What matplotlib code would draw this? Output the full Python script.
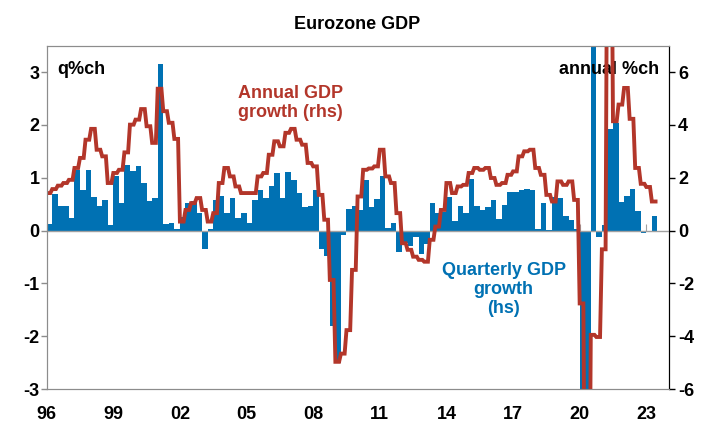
import matplotlib
matplotlib.use("Agg")
import matplotlib.pyplot as plt
import numpy as np

plt.rcParams['font.family'] = ['Liberation Sans', 'DejaVu Sans']
plt.rcParams['font.weight'] = 'bold'
plt.rcParams['axes.unicode_minus'] = False

start_year = 1996
# Quarterly GDP growth, q%ch (lhs), 1996Q1 .. 2023Q2
quarterly = [
    0.13, 0.69, 0.47, 0.47,   # 1996
    0.23, 1.15, 0.77, 1.15,   # 1997
    0.63, 0.46, 0.57, 0.11,   # 1998
    1.04, 0.52, 1.25, 1.12,   # 1999
    1.22, 0.90, 0.55, 0.61,   # 2000
    3.16, 0.13, 0.15, 0.02,   # 2001
    0.25, 0.52, 0.55, 0.33,   # 2002
    -0.35, 0.02, 0.58, 0.66,  # 2003
    0.34, 0.61, 0.23, 0.34,   # 2004
    0.15, 0.58, 0.76, 0.61,   # 2005
    0.84, 1.09, 0.61, 1.11,   # 2006
    0.95, 0.71, 0.44, 0.46,   # 2007
    0.77, -0.35, -0.49, -1.81,  # 2008
    -2.50, -0.08, 0.40, 0.47,   # 2009
    0.39, 0.96, 0.44, 0.59,   # 2010
    1.04, 0.05, 0.14, -0.40,  # 2011
    -0.24, -0.30, -0.12, -0.45,  # 2012
    -0.25, 0.53, 0.33, 0.35,  # 2013
    0.63, 0.19, 0.47, 0.34,   # 2014
    0.97, 0.47, 0.39, 0.44,   # 2015
    0.58, 0.22, 0.49, 0.73,   # 2016
    0.73, 0.77, 0.78, 0.76,   # 2017
    0.03, 0.52, 0.01, 0.63,   # 2018
    0.62, 0.28, 0.20, 0.02,   # 2019
    -3.5, -11.6, 12.5, -0.13,  # 2020
    0.10, 1.92, 2.04, 0.54,   # 2021
    0.65, 0.78, 0.37, -0.05,  # 2022
    0.00, 0.27,               # 2023
]
# Annual GDP growth, annual %ch (rhs), 1996Q1 .. 2023Q2
annual = [
    1.42, 1.57, 1.70, 1.80,   # 1996
    1.92, 2.37, 2.75, 3.44,   # 1997
    3.85, 3.06, 2.81, 1.80,   # 1998
    2.18, 2.30, 2.96, 4.01,   # 1999
    4.20, 4.60, 3.95, 3.32,   # 2000
    5.37, 4.52, 4.08, 3.47,   # 2001
    0.34, 0.78, 1.04, 1.23,   # 2002
    0.78, 0.34, 0.66, 1.80,   # 2003
    2.37, 2.05, 1.67, 1.42,   # 2004
    1.42, 1.42, 2.05, 2.18,   # 2005
    2.87, 3.38, 3.19, 3.70,   # 2006
    3.85, 3.44, 3.25, 2.56,   # 2007
    2.43, 1.35, 0.41, -1.87,  # 2008
    -4.97, -4.66, -3.77, -1.49,  # 2009
    1.29, 2.30, 2.35, 2.43,   # 2010
    3.06, 2.05, 1.80, 0.66,   # 2011
    -0.48, -0.73, -0.99, -1.11,  # 2012
    -1.18, -0.35, 0.15, 0.78,  # 2013
    1.80, 1.42, 1.67, 1.73,   # 2014
    2.18, 2.37, 2.30, 2.37,   # 2015
    1.99, 1.73, 1.80, 2.11,   # 2016
    2.24, 2.81, 3.00, 3.06,   # 2017
    2.37, 2.11, 1.35, 1.10,   # 2018
    1.86, 1.73, 1.86, 1.16,   # 2019
    -2.76, -14.5, -3.95, -4.03,  # 2020
    -0.71, 14.2, 4.14, 4.77,  # 2021
    5.40, 4.23, 2.37, 1.77,   # 2022
    1.65, 1.10,               # 2023
]
year_ticks = [1996, 1999, 2002, 2005, 2008, 2011, 2014, 2017, 2020, 2023]
year_labels = ['96', '99', '02', '05', '08', '11', '14', '17', '20', '23']
left_ticks = [-3, -2, -1, 0, 1, 2, 3]
right_ticks = [-6, -4, -2, 0, 2, 4, 6]

BLUE = '#0071B3'
RED = '#B3362A'
GREY = '#8C8C8C'

t = start_year + 0.25 * np.arange(len(quarterly))
# annual series shown as monthly repeats of each quarterly value
tm = (t[:, None] + np.array([0, 1, 2]) / 12.0).ravel()
am = np.repeat(np.array(annual), 3)

fig = plt.figure(figsize=(7.06, 4.25), dpi=100)
ax = fig.add_axes([0.0661, 0.0847, 0.8808, 0.8078])
ax2 = ax.twinx()

ax.bar(t, quarterly, width=0.25, align='edge', color=BLUE, linewidth=0)
ax.axhline(0, color='#A0A0A0', lw=1.0, zorder=3)
ax2.plot(tm, am, color=RED, lw=2.8, solid_joinstyle='miter')

ax.set_xlim(1996, 2024)
ax.set_ylim(-3, 3.5)
ax2.set_ylim(-6, 7)

ax.set_xticks(year_ticks)
ax.set_xticklabels(year_labels)
ax.tick_params(axis='x', length=0, pad=12, labelsize=13)
ax.set_yticks(left_ticks)
ax.set_yticklabels([str(v) for v in left_ticks])
ax.tick_params(axis='y', length=4, width=1, color=GREY, pad=1, labelsize=13)
ax2.set_yticks(right_ticks)
ax2.set_yticklabels([str(v) for v in right_ticks])
ax2.tick_params(axis='y', length=4, width=1, color='black', pad=3, labelsize=13)

# ticks on the zero line
sec = ax.secondary_xaxis(3 / 6.5)
sec.set_xticks(year_ticks)
sec.tick_params(axis='x', direction='in', length=5, color='#A0A0A0', labelbottom=False)
sec.spines['bottom'].set_visible(False)
sec.set_xticklabels([])

for a in (ax, ax2):
    for s in ('left', 'top', 'bottom'):
        a.spines[s].set_color(GREY)
    a.spines['right'].set_color('black')

fig.suptitle('Eurozone GDP', x=0.506, y=0.963, fontsize=13, fontweight='bold')
ax.text(0.017, 0.955, 'q%ch', transform=ax.transAxes, fontsize=13,
        fontweight='bold', va='top', ha='left')
ax.text(0.985, 0.955, 'annual %ch', transform=ax.transAxes, fontsize=13,
        fontweight='bold', va='top', ha='right')
ax2.text(0.308, 0.885, 'Annual GDP\ngrowth (rhs)', transform=ax.transAxes,
         fontsize=13, fontweight='bold', color=RED, va='top', ha='left',
         linespacing=1.15)
ax2.text(0.735, 0.37, 'Quarterly GDP\ngrowth\n(hs)', transform=ax.transAxes,
         fontsize=13, fontweight='bold', color=BLUE, va='top', ha='center',
         linespacing=1.15)

fig.savefig('out.png', dpi=100)
